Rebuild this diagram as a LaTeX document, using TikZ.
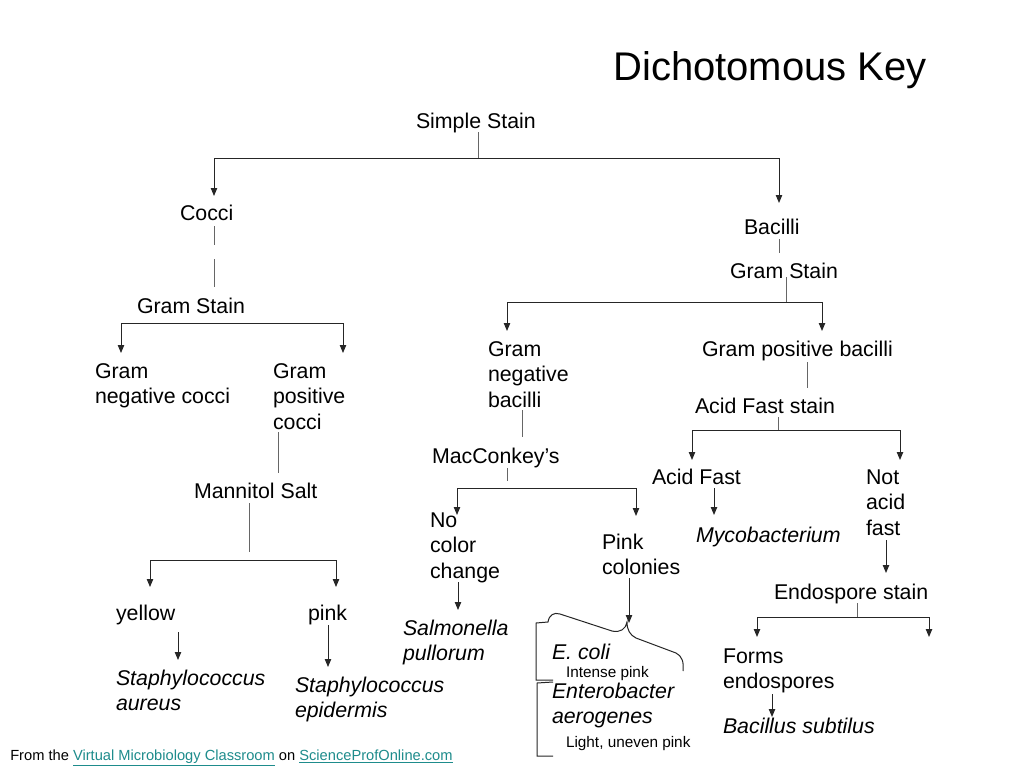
\documentclass[tikz,border=0pt]{standalone}
\usepackage{fontspec}
\setmainfont{Liberation Sans}
\usetikzlibrary{arrows.meta}
\definecolor{linkc}{RGB}{30,140,140}
\tikzset{
  lbl/.style={anchor=base west, inner sep=0pt, outer sep=0pt, font=\fontsize{16}{19.1}\selectfont, align=left},
  ilbl/.style={lbl, font=\fontsize{16}{19.1}\selectfont\itshape},
  sml/.style={anchor=base west, inner sep=0pt, outer sep=0pt, font=\fontsize{11.5}{13}\selectfont},
  ln/.style={line width=0.75pt, black!85},
  vl/.style={line width=0.6pt, black!60},
  arr/.style={ln, -{Triangle[length=6pt,width=4.8pt]}},
}
\begin{document}
\begin{tikzpicture}[x=0.75pt, y=-0.75pt]
\useasboundingbox[fill=white] (0,0) rectangle (1024,768);

% ---- texts (multi-line nodes are placed by the baseline of their last line)
\node[anchor=base west, inner sep=0pt, font=\fontsize{30}{34}\selectfont] (title) at (613,80) {Dichotomous Key};
\node[lbl] (simple) at (416,128) {Simple Stain};
\node[lbl] (cocci) at (180,220) {Cocci};
\node[lbl] (gsL) at (137,313) {Gram Stain};
\node[lbl] (gnc) at (95,403.5) {Gram\\negative cocci};
\node[lbl] (gpc) at (273,429) {Gram\\positive\\cocci};
\node[lbl] (mann) at (194,498) {Mannitol Salt};
\node[lbl] (yellow) at (116,620) {yellow};
\node[lbl] (pink) at (308,620) {pink};
\node[ilbl] (saur) at (116,710.5) {Staphylococcus\\aureus};
\node[ilbl] (sepi) at (295,717.5) {Staphylococcus\\epidermis};
\node[lbl] (bac) at (744,234) {Bacilli};
\node[lbl] (gsR) at (730,278) {Gram Stain};
\node[lbl] (gnb) at (488,407) {Gram\\negative\\bacilli};
\node[lbl] (gpb) at (702,356) {Gram positive bacilli};
\node[lbl] (afs) at (695,413) {Acid Fast stain};
\node[lbl] (af) at (652,484) {Acid Fast};
\node[lbl] (naf) at (866,535) {Not\\acid\\fast};
\node[ilbl] (myco) at (696,542) {Mycobacterium};
\node[lbl] (mac) at (432,463) {MacConkey’s};
\node[lbl] (ncc) at (430,578) {No\\color\\change};
\node[ilbl] (salm) at (403,660.5) {Salmonella\\pullorum};
\node[lbl] (pinkc) at (602,574.5) {Pink\\colonies};
\node[ilbl] (ecoli) at (552,659) {E. coli};
\node[sml] (intense) at (566,677) {Intense pink};
\node[ilbl] (entero) at (552,723.5) {Enterobacter\\aerogenes};
\node[sml] (light) at (566,747) {Light, uneven pink};
\node[lbl] (endo) at (774,599) {Endospore stain};
\node[lbl] (forms) at (723,688.5) {Forms\\endospores};
\node[ilbl] (bsub) at (723,733) {Bacillus subtilus};
\node[anchor=base west, inner sep=0pt, font=\fontsize{11}{13}\selectfont] (foot) at (10,760)
  {From the \textcolor{linkc}{\underline{Virtual Microbiology Classroom}} on \textcolor{linkc}{\underline{ScienceProfOnline.com}}};

% ---- coordinates
\coordinate (jS0) at (478,132); \coordinate (jS) at (478,158);
\coordinate (tC) at (214,196);  \coordinate (tB) at (779,203);
\coordinate (c1) at (214,226); \coordinate (c2) at (214,245);
\coordinate (c3) at (214,259); \coordinate (c4) at (214,287);
\coordinate (jG) at (232,323);
\coordinate (tGN) at (121,353); \coordinate (tGP) at (343,353);
\coordinate (p1) at (278,432); \coordinate (p2) at (278,473);
\coordinate (m1) at (249,503); \coordinate (m2) at (249,552);
\coordinate (jM) at (249,560);
\coordinate (tY) at (150,587); \coordinate (tP) at (336,587);
\coordinate (y1) at (178,632); \coordinate (y2) at (178,660);
\coordinate (k1) at (328,625); \coordinate (k2) at (328,667);
\coordinate (b1) at (779,239); \coordinate (b2) at (779,253);
\coordinate (g1) at (786,277); \coordinate (jB) at (786,302);
\coordinate (tGNB) at (507,331); \coordinate (tGPB) at (822,331);
\coordinate (q1) at (807,362); \coordinate (q2) at (807,388);
\coordinate (a1) at (778,417); \coordinate (jA) at (778,430);
\coordinate (tAF) at (692,460); \coordinate (tNAF) at (900,460);
\coordinate (f1) at (714,488); \coordinate (f2) at (714,515);
\coordinate (n1) at (886,540); \coordinate (n2) at (886,573);
\coordinate (e1) at (857,603); \coordinate (jE) at (857,617);
\coordinate (tFE) at (757,637); \coordinate (tNE) at (929,637);
\coordinate (fe1) at (772,694); \coordinate (fe2) at (772,717);
\coordinate (r1) at (522,410); \coordinate (r2) at (522,437);
\coordinate (mc1) at (507,468); \coordinate (mc2) at (507,481);
\coordinate (jMC) at (507,488);
\coordinate (tNC) at (457,515); \coordinate (tPC) at (636,516);
\coordinate (nc1) at (458,582); \coordinate (nc2) at (458,610);
\coordinate (pc1) at (629,578); \coordinate (pc2) at (629,623);

% ---- connectors
\draw[vl] (jS0) -- (jS);
\draw[arr] (jS) -| (tC);
\draw[arr] (jS) -| (tB);
\draw[vl] (c1) -- (c2);
\draw[vl] (c3) -- (c4);
\draw[arr] (jG) -| (tGN);
\draw[arr] (jG) -| (tGP);
\draw[vl] (p1) -- (p2);
\draw[vl] (m1) -- (m2);
\draw[arr] (jM) -| (tY);
\draw[arr] (jM) -| (tP);
\draw[arr] (y1) -- (y2);
\draw[arr] (k1) -- (k2);
\draw[vl] (b1) -- (b2);
\draw[vl] (g1) -- (jB);
\draw[arr] (jB) -| (tGNB);
\draw[arr] (jB) -| (tGPB);
\draw[vl] (q1) -- (q2);
\draw[vl] (a1) -- (jA);
\draw[arr] (jA) -| (tAF);
\draw[arr] (jA) -| (tNAF);
\draw[arr] (f1) -- (f2);
\draw[arr] (n1) -- (n2);
\draw[vl] (e1) -- (jE);
\draw[arr] (jE) -| (tFE);
\draw[arr] (jE) -| (tNE);
\draw[arr] (fe1) -- (fe2);
\draw[vl] (r1) -- (r2);
\draw[vl] (mc1) -- (mc2);
\draw[arr] (jMC) -| (tNC);
\draw[arr] (jMC) -| (tPC);
\draw[arr] (nc1) -- (nc2);
\draw[arr] (pc1) -- (pc2);

% ---- brace and brackets
\draw[ln] (553,680) -- (536,680) -- (536,623) -- (548,622)
  .. controls (549,615) and (554,612) .. (560,614) -- (612,631)
  .. controls (620,633) and (626,629) .. (627,622)
  .. controls (627,630) and (630,635) .. (636,638) -- (676,653)
  .. controls (682,656) and (684,662) .. (683,671);
\draw[ln] (553,682) -- (537,683) -- (537,756) -- (553,756);
\end{tikzpicture}
\end{document}
